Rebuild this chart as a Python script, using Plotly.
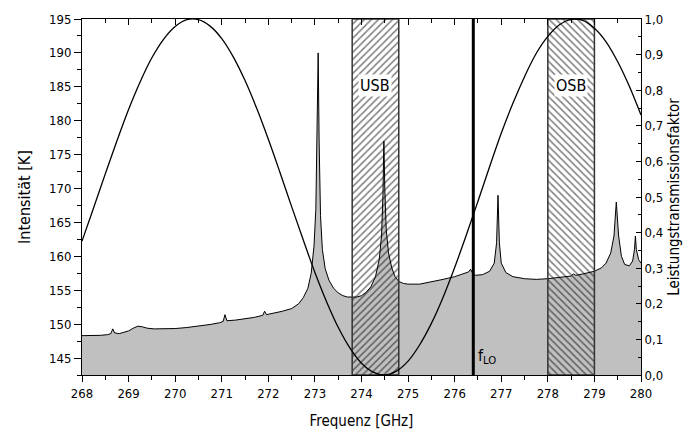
import plotly.graph_objects as go

# Measured spectrum: frequency [GHz] and intensity [K]
freq_ghz = [
    268.00, 268.20, 268.40, 268.55, 268.62, 268.66, 268.70, 268.80, 268.90, 269.00,
    269.10, 269.20, 269.30, 269.40, 269.55, 269.75, 270.00, 270.25, 270.50, 270.75,
    270.95, 271.03, 271.07, 271.11, 271.30, 271.50, 271.70, 271.88, 271.92, 271.96,
    272.10, 272.30, 272.50, 272.65, 272.75, 272.85, 272.92, 272.98, 273.02, 273.05,
    273.07, 273.09, 273.12, 273.16, 273.22, 273.30, 273.40, 273.50, 273.60, 273.70,
    273.80, 273.90, 274.00, 274.10, 274.20, 274.30, 274.38, 274.43, 274.46, 274.48,
    274.50, 274.53, 274.58, 274.65, 274.72, 274.80, 274.90, 275.00, 275.25, 275.50,
    275.75, 276.00, 276.20, 276.30, 276.34, 276.38, 276.45, 276.60, 276.75, 276.85,
    276.90, 276.93, 276.96, 277.00, 277.10, 277.25, 277.50, 277.75, 278.00, 278.25,
    278.50, 278.55, 278.60, 278.75, 279.00, 279.15, 279.25, 279.35, 279.42, 279.47,
    279.52, 279.58, 279.65, 279.75, 279.82, 279.86, 279.88, 279.90, 279.95, 280.00,
]
intensity_k = [
    148.30, 148.30, 148.35, 148.45, 148.60, 149.30, 148.70, 148.60, 148.80, 149.00,
    149.40, 149.70, 149.60, 149.40, 149.30, 149.30, 149.35, 149.50, 149.70, 149.95,
    150.20, 150.40, 151.40, 150.50, 150.60, 150.80, 151.00, 151.30, 151.90, 151.40,
    151.60, 151.90, 152.30, 153.00, 153.90, 155.30, 157.50, 161.50, 167.00, 178.00,
    190.00, 177.00, 166.00, 161.00, 158.20, 156.50, 155.30, 154.60, 154.20, 154.00,
    153.95, 154.00, 154.20, 154.70, 155.50, 157.00, 159.50, 163.00, 169.00, 177.00,
    170.00, 164.00, 160.50, 158.30, 157.00, 156.30, 156.00, 155.90, 155.90, 156.20,
    156.60, 157.00, 157.40, 157.70, 158.10, 157.60, 157.20, 157.30, 157.80, 159.00,
    162.00, 169.00, 162.00, 159.00, 157.60, 157.00, 156.70, 156.60, 156.70, 156.90,
    157.10, 157.40, 157.20, 157.40, 157.80, 158.30, 159.00, 160.50, 163.00, 168.00,
    163.00, 160.00, 158.80, 158.60, 159.30, 161.00, 163.00, 161.00, 159.50, 159.00,
]

# Power transmission factor of the sideband filter
trans_freq_ghz = [
    268.00, 268.25, 268.50, 268.75, 269.00, 269.25, 269.50, 269.75, 270.00, 270.25,
    270.50, 270.75, 271.00, 271.25, 271.50, 271.75, 272.00, 272.25, 272.50, 272.75,
    273.00, 273.25, 273.50, 273.75, 274.00, 274.25, 274.50, 274.75, 275.00, 275.25,
    275.50, 275.75, 276.00, 276.25, 276.50, 276.75, 277.00, 277.25, 277.50, 277.75,
    278.00, 278.25, 278.50, 278.75, 279.00, 279.25, 279.50, 279.75, 280.00,
]
trans_factor = [
    0.376, 0.470, 0.565, 0.658, 0.746, 0.824, 0.891, 0.943, 0.979, 0.998,
    0.998, 0.980, 0.945, 0.893, 0.827, 0.749, 0.662, 0.569, 0.473, 0.379,
    0.288, 0.206, 0.134, 0.076, 0.033, 0.008, 0.000, 0.011, 0.039, 0.085,
    0.145, 0.218, 0.302, 0.393, 0.488, 0.585, 0.679, 0.763, 0.838, 0.903,
    0.951, 0.984, 0.999, 0.996, 0.974, 0.936, 0.880, 0.811, 0.730,
]

# Sidebands [GHz] and local oscillator frequency
sideband_names = ["USB", "OSB"]
sideband_lo = [273.8, 278.0]
sideband_hi = [274.8, 279.0]
sideband_hatch = ["/", "\\"]
f_lo_ghz = 276.4

x_range = [268, 280]
k_range = [142.5, 195]

font_family = "Liberation Sans Narrow, DejaVu Sans Condensed, Arial Narrow, sans-serif"

fig = go.Figure()

# gray filled spectrum
fig.add_trace(go.Scatter(
    x=freq_ghz, y=intensity_k, mode="lines",
    line=dict(color="black", width=1),
    fill="tozeroy", fillcolor="#c0c0c0",
    hoverinfo="skip", showlegend=False,
))

# hatched sideband windows
for lo, hi, hatch in zip(sideband_lo, sideband_hi, sideband_hatch):
    fig.add_trace(go.Scatter(
        x=[lo, lo, hi, hi, lo],
        y=[k_range[0], k_range[1], k_range[1], k_range[0], k_range[0]],
        mode="lines", fill="toself",
        fillcolor="rgba(0,0,0,0)",
        fillpattern=dict(shape=hatch, fgcolor="black", bgcolor="rgba(0,0,0,0)",
                         size=5, solidity=0.3),
        line=dict(color="#333333", width=1.5),
        hoverinfo="skip", showlegend=False,
    ))

# transmission curve on the right axis
fig.add_trace(go.Scatter(
    x=trans_freq_ghz, y=trans_factor, mode="lines",
    line=dict(color="black", width=1.3, shape="spline", smoothing=1.0),
    xaxis="x2", yaxis="y2",
    hoverinfo="skip", showlegend=False,
))

# local oscillator line
fig.add_trace(go.Scatter(
    x=[f_lo_ghz, f_lo_ghz], y=k_range, mode="lines",
    line=dict(color="black", width=3),
    hoverinfo="skip", showlegend=False,
))

for name, lo, hi in zip(sideband_names, sideband_lo, sideband_hi):
    fig.add_annotation(
        x=(lo + hi) / 2, y=185.2, text=name, showarrow=False,
        bgcolor="white", borderpad=1,
        font=dict(size=16, color="black", family=font_family),
    )

fig.add_annotation(
    x=f_lo_ghz + 0.05, y=145.3, text="f<sub>LO</sub>", showarrow=False,
    xanchor="left", yanchor="middle",
    font=dict(size=16, color="black", family=font_family),
)

axis_common = dict(showgrid=False, zeroline=False, showline=True,
                   linecolor="black", linewidth=1, tickcolor="black",
                   tickfont=dict(size=13, color="black", family=font_family))

fig.update_layout(
    width=692, height=438,
    margin=dict(l=82, r=50, t=15, b=61),
    paper_bgcolor="white", plot_bgcolor="white",
    separators=",.",
    font=dict(family=font_family, color="black"),
    xaxis=dict(
        range=x_range, dtick=1, tick0=268, ticks="outside", ticklen=6,
        minor=dict(dtick=0.5, ticks="outside", ticklen=4, tickcolor="black"),
        title=dict(text="Frequenz [GHz]", font=dict(size=15, family=font_family),
                   standoff=15),
        **axis_common,
    ),
    xaxis2=dict(
        range=x_range, overlaying="x", side="top", anchor="y2",
        dtick=1, tick0=268, ticks="inside", ticklen=6,
        minor=dict(dtick=0.5, ticks="inside", ticklen=4, tickcolor="black"),
        showticklabels=False,
        **axis_common,
    ),
    yaxis=dict(
        range=k_range, dtick=5, tick0=145, ticks="outside", ticklen=7,
        minor=dict(dtick=2.5, ticks="outside", ticklen=4, tickcolor="black"),
        title=dict(text="Intensität [K]", font=dict(size=16, family=font_family),
                   standoff=14),
        **axis_common,
    ),
    yaxis2=dict(
        range=[0, 1], overlaying="y", side="right", anchor="x2",
        dtick=0.1, tick0=0, tickformat=".1f", ticks="inside", ticklen=5,
        minor=dict(dtick=0.05, ticks="inside", ticklen=3, tickcolor="black"),
        title=dict(text="Leistungstransmissionsfaktor",
                   font=dict(size=15, family=font_family), standoff=6),
        **axis_common,
    ),
)

fig.write_html("out.html")
